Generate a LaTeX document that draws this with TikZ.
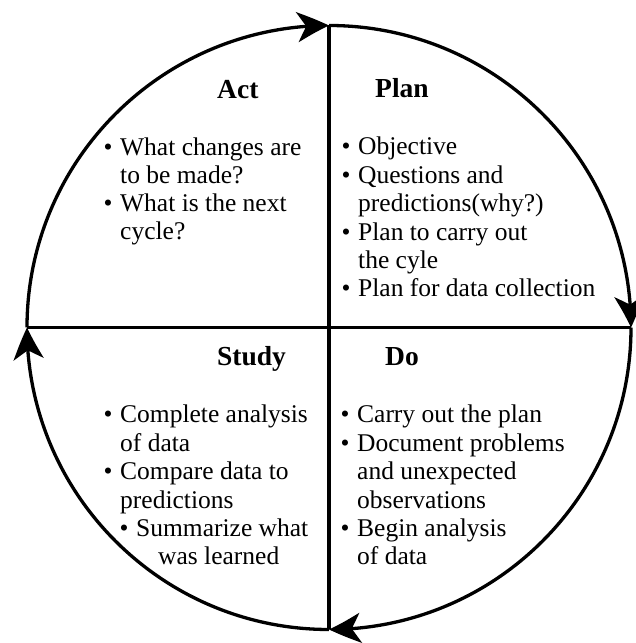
\documentclass[tikz,border=0pt]{standalone}
\usepackage{fontspec}
\setmainfont{Liberation Serif}
\usetikzlibrary{arrows.meta,bending}
\newcommand\pdcabul{\makebox[16.5pt][l]{\textbullet}}
\begin{document}
\begin{tikzpicture}[x=1pt,y=1pt,
  ring/.style={line width=3.3pt,-{Stealth[length=32pt,width=30pt,inset=9pt,bend]}},
  divider/.style={line width=3.4pt},
  title/.style={font=\fontsize{27.5}{30}\selectfont\bfseries, anchor=base west, inner sep=0pt},
  body/.style={font=\fontsize{25.5}{28}\selectfont, anchor=base west, inner sep=0pt},
  item/.style={body, xshift=-16.5pt}]
\useasboundingbox (0,0) rectangle (635,643);
\coordinate (c) at (329,315.5);
\coordinate (top) at (329,617.5);
\coordinate (bottom) at (329,13.5);
\coordinate (left) at (27,315.5);
\coordinate (right) at (631,315.5);
% dividers
\draw[divider] (top) -- (bottom);
\draw[divider] (left) -- (right);
% cycle arcs
\draw[ring] (left) arc[start angle=180,end angle=90,radius=302];
\draw[ring] (top) arc[start angle=90,end angle=0,radius=302];
\draw[ring] (right) arc[start angle=0,end angle=-90,radius=302];
\draw[ring] (bottom) arc[start angle=-90,end angle=-180,radius=302];
% titles
\node[title] (act) at (217,544) {Act};
\node[title] (plan) at (375,545) {Plan};
\node[title] (study) at (217,277) {Study};
\node[title] (do) at (385,277) {Do};
% Act
\node[item] (a1) at (120,487) {\pdcabul What changes are};
\node[body] (a2) at (120,459) {to be made?};
\node[item] (a3) at (120,431) {\pdcabul What is the next};
\node[body] (a4) at (120,403) {cycle?};
% Plan
\node[item] (p1) at (358,488) {\pdcabul Objective};
\node[item] (p2) at (358,459.6) {\pdcabul Questions and};
\node[body] (p3) at (358,431.2) {predictions(why?)};
\node[item] (p4) at (358,402.8) {\pdcabul Plan to carry out};
\node[body] (p5) at (358,374.4) {the cyle};
\node[item] (p6) at (358,346) {\pdcabul Plan for data collection};
% Study
\node[item] (s1) at (120,220) {\pdcabul Complete analysis};
\node[body] (s2) at (120,191.6) {of data};
\node[item] (s3) at (120,163.2) {\pdcabul Compare data to};
\node[body] (s4) at (120,134.8) {predictions};
\node[item] (s5) at (136,106.4) {\pdcabul Summarize what};
\node[body] (s6) at (158,78) {was learned};
% Do
\node[item] (d1) at (357,220) {\pdcabul Carry out the plan};
\node[item] (d2) at (357,191.6) {\pdcabul Document problems};
\node[body] (d3) at (357,163.2) {and unexpected};
\node[body] (d4) at (357,134.8) {observations};
\node[item] (d5) at (357,106.4) {\pdcabul Begin analysis};
\node[body] (d6) at (357,78) {of data};
\end{tikzpicture}
\end{document}
